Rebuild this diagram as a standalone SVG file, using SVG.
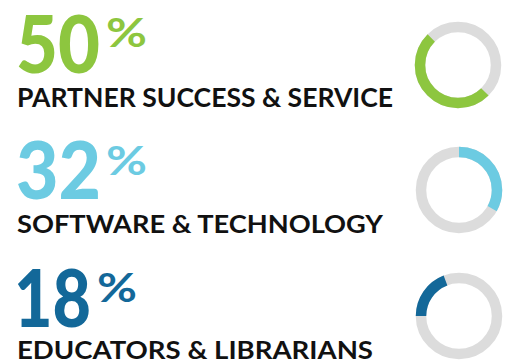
<svg xmlns="http://www.w3.org/2000/svg" width="511" height="362" viewBox="0 0 511 362">
  <style>
    .num { font-family: Lato, "Liberation Sans", sans-serif; font-weight: 900; font-size: 80px; }
    .pct { font-family: Lato, "Liberation Sans", sans-serif; font-weight: 700; font-size: 40px; }
    .cap { font-family: Lato, "Liberation Sans", sans-serif; font-weight: 700; fill: #111111; }
    .track { fill: none; stroke: #DCDCDC; stroke-width: 10.5; }
    .arc { fill: none; stroke-width: 10.5; }
  </style>
  <rect width="511" height="362" fill="#ffffff"/>

  <g id="item-partner">
    <text class="num" x="16" y="72.5" fill="#8DC63F" textLength="84" lengthAdjust="spacingAndGlyphs">50</text>
    <text class="pct" x="106" y="47" fill="#8DC63F" textLength="41" lengthAdjust="spacingAndGlyphs">%</text>
    <text class="cap" x="17" y="107" font-size="26" textLength="376" lengthAdjust="spacingAndGlyphs">PARTNER SUCCESS &amp; SERVICE</text>
    <circle class="track" cx="458" cy="65" r="38"/>
    <circle class="arc" cx="458" cy="65" r="38" stroke="#8DC63F" stroke-dasharray="119.38 300" transform="rotate(45 458 65)"/>
  </g>

  <g id="item-software">
    <text class="num" x="16" y="198.5" fill="#6CCBE2" textLength="85" lengthAdjust="spacingAndGlyphs">32</text>
    <text class="pct" x="106" y="175" fill="#6CCBE2" textLength="41" lengthAdjust="spacingAndGlyphs">%</text>
    <text class="cap" x="17" y="232.5" font-size="25" textLength="366" lengthAdjust="spacingAndGlyphs">SOFTWARE &amp; TECHNOLOGY</text>
    <circle class="track" cx="459" cy="190" r="38"/>
    <circle class="arc" cx="459" cy="190" r="38" stroke="#6CCBE2" stroke-dasharray="79 300" transform="rotate(-90 459 190)"/>
  </g>

  <g id="item-educators">
    <text class="num" x="14" y="326.5" fill="#136899" textLength="77" lengthAdjust="spacingAndGlyphs">18</text>
    <text class="pct" x="97" y="302" fill="#136899" textLength="40" lengthAdjust="spacingAndGlyphs">%</text>
    <text class="cap" x="17" y="359" font-size="24" textLength="356" lengthAdjust="spacingAndGlyphs">EDUCATORS &amp; LIBRARIANS</text>
    <circle class="track" cx="459" cy="316" r="38"/>
    <circle class="arc" cx="459" cy="316" r="38" stroke="#136899" stroke-dasharray="45.8 300" transform="rotate(180 459 316)"/>
  </g>
</svg>
